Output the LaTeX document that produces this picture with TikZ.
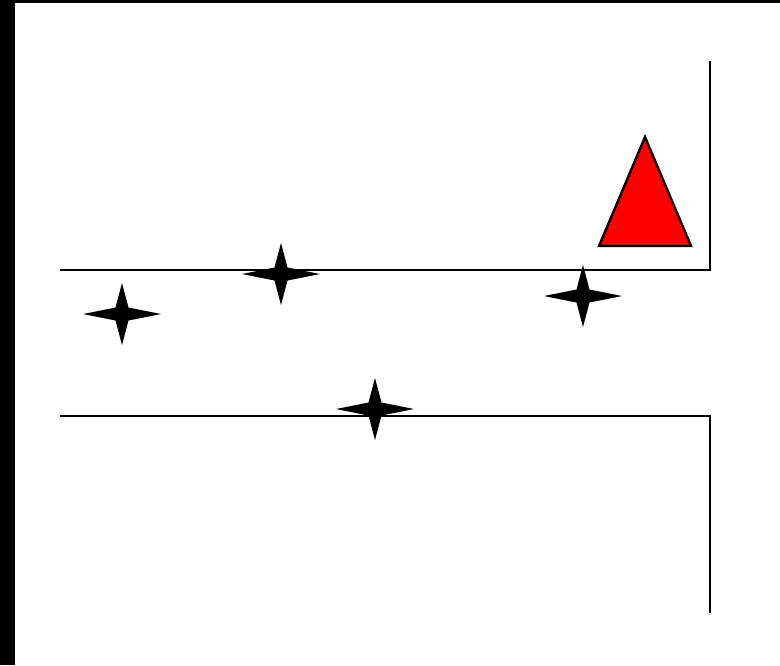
\documentclass[tikz,border=0pt]{standalone}
\usepackage{tikz}
\tikzset{
  sparkle/.pic = {
    \fill[black] (-39,0) -- (-6.5,-6.5) -- (0,-31) -- (6.5,-6.5) -- (39,0) -- (6.5,6.5) -- (0,31) -- (-6.5,6.5) -- cycle;
  },
  wall/.style = {line width = 2.4pt, black}
}

\begin{document}
\begin{tikzpicture}[x = 1pt, y = -1pt]
\useasboundingbox (0,0) rectangle (780,665);
\fill [white] (0,0) rectangle (780,665);
\fill [black] (0,0) rectangle (15,665);
\fill [black] (0,0) rectangle (780,3);
\draw [wall] (60,270) -- (710,270) -- (710,61);
\draw [wall] (60,416) -- (710,416) -- (710,613);
\draw [line width = 2.4pt, fill = red] (645,137) -- (691,246) -- (599,246) -- cycle;
\pic at (122,314) {sparkle};
\pic at (281,274) {sparkle};
\pic at (583,296) {sparkle};
\pic at (375,409) {sparkle};
\end{tikzpicture}
\end{document}
